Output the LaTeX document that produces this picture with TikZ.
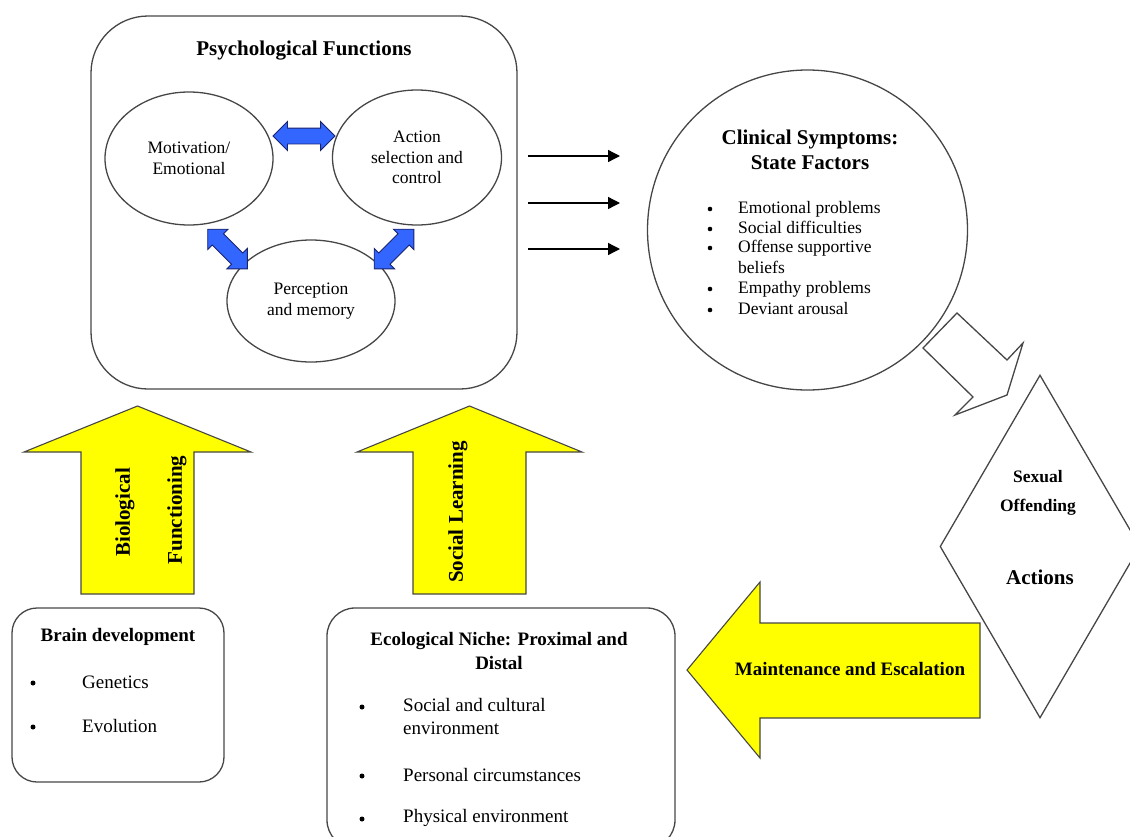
\documentclass[tikz,border=0pt]{standalone}
\usepackage{fontspec}
\setmainfont{Liberation Serif}
\usetikzlibrary{shapes.geometric,shapes.arrows,arrows.meta}
\definecolor{lc}{RGB}{70,70,70}
\definecolor{arrowblue}{RGB}{51,102,255}
\definecolor{bluedark}{RGB}{25,35,110}
\definecolor{yel}{RGB}{255,255,0}
\tikzset{
  lw/.style={draw=lc, line width=1.3pt},
  pbox/.style={lw, rectangle, inner sep=0pt},
  ell/.style={lw, ellipse, inner sep=0pt, align=center, font=\fontsize{17.5}{20.5}\selectfont},
  bluedbl/.style={double arrow, fill=arrowblue, draw=bluedark, line width=0.9pt, minimum width=28pt, minimum height=#1, double arrow head extend=6.5pt, double arrow head indent=0pt, inner xsep=0pt, inner ysep=7.5pt},
  blockarrow/.style={fill=yel, draw=lc, line width=1.1pt, line join=miter},
  hollow/.style={fill=white, draw=lc, line width=1.3pt, line join=miter},
  thinarrow/.style={line width=1.3pt, -{Triangle[length=12pt,width=12pt]}},
  ttlXL/.style={inner sep=0pt, font=\bfseries\fontsize{21}{25}\selectfont, align=center},
  ttlL/.style={inner sep=0pt, font=\bfseries\fontsize{19}{24}\selectfont, align=center},
  ttlM/.style={inner sep=0pt, font=\bfseries\fontsize{17.5}{21}\selectfont, align=center},
  listS/.style={inner sep=0pt, anchor=west, align=left, font=\fontsize{17.5}{20.2}\selectfont, text height=12pt, text depth=3.5pt},
  listL/.style={inner sep=0pt, anchor=west, align=left, font=\fontsize{19}{23}\selectfont},
  bulS/.style={circle, fill=black, inner sep=0pt, minimum size=4.6pt},
  bulL/.style={circle, fill=black, inner sep=0pt, minimum size=5pt},
}
\begin{document}
\begin{tikzpicture}[x=1pt,y=-1pt]
\useasboundingbox (0,0) rectangle (1130,836);
\clip (0,0) rectangle (1130,836);

% ---------- Psychological functions ----------
\node[pbox, rounded corners=57pt, minimum width=426pt, minimum height=373pt] (psy) at (304,202.5) {};
\node[ttlXL] (psyt) at (304,51) {Psychological Functions};
\node[ell, minimum width=168pt, minimum height=133pt] (mot) at (189,158.5) {Motivation/\\Emotional};
\node[ell, minimum width=169pt, minimum height=135pt] (act) at (417,157.5) {Action\\selection and\\control};
\node[ell, minimum width=168pt, minimum height=122pt] (per) at (311,301) {Perception\\and memory};
\node[bluedbl=62pt] (ma) at (304,136) {};
\node[bluedbl=56pt, rotate=-45] (mp) at (227.5,249) {};
\node[bluedbl=56pt, rotate=45] (ap) at (394,249) {};

% ---------- three arrows ----------
\coordinate (s1) at (528,156); \coordinate (e1) at (620,156);
\coordinate (s2) at (528,203); \coordinate (e2) at (620,203);
\coordinate (s3) at (528,249); \coordinate (e3) at (620,249);
\draw[thinarrow] (s1) -- (e1);
\draw[thinarrow] (s2) -- (e2);
\draw[thinarrow] (s3) -- (e3);

% ---------- Clinical symptoms ----------
\node[lw, circle, minimum size=320pt, inner sep=0pt] (clin) at (807.5,230) {};
\node[ttlXL] (clint) at (810,149.5) {Clinical Symptoms:\\State Factors};
\node[bulS] (cb1) at (710,209) {};
\node[bulS] (cb2) at (710,229) {};
\node[bulS] (cb3) at (710,248) {};
\node[bulS] (cb4) at (710,289) {};
\node[bulS] (cb5) at (710,310) {};
\node[listS] (c1) at (738,209) {Emotional problems};
\node[listS] (c2) at (738,229) {Social difficulties};
\node[listS] (c3) at (738,248) {Offense supportive};
\node[listS] (c3b) at (738,269) {beliefs};
\node[listS] (c4) at (738,289) {Empathy problems};
\node[listS] (c5) at (738,310) {Deviant arousal};

% ---------- hollow arrow ----------
\draw[hollow] (957,313) -- (1007,360) -- (1023,343) -- (1007,395) -- (955,415) -- (973,397) -- (923,348) -- cycle;

% ---------- Diamond ----------
\node[lw, diamond, minimum width=200pt, minimum height=343pt, inner sep=0pt] (dia) at (1040,546.5) {};
\node[ttlM] (sex) at (1038,477) {Sexual};
\node[ttlM] (off) at (1038,507) {Offending};
\node[ttlXL] (actn) at (1040,577) {Actions};

% ---------- yellow up arrows ----------
\draw[blockarrow] (137.5,406) -- (251,452) -- (194,452) -- (194,594) -- (81,594) -- (81,452) -- (24,452) -- cycle;
\draw[blockarrow] (469.5,406) -- (582,452) -- (526,452) -- (526,594) -- (413,594) -- (413,452) -- (357,452) -- cycle;
\node[ttlXL, rotate=90] (bio) at (125,512.5) {Biological};
\node[ttlXL, rotate=90] (fun) at (177,510) {Functioning};
\node[ttlXL, rotate=90] (soc) at (458,512) {Social Learning};

% ---------- Brain development ----------
\node[pbox, rounded corners=25pt, minimum width=212pt, minimum height=174pt] (brain) at (118,695) {};
\node[ttlL] (braint) at (118,637) {Brain development};
\node[bulL] (bb1) at (33,683) {};
\node[bulL] (bb2) at (33,727) {};
\node[listL] (gen) at (82,682) {Genetics};
\node[listL] (evo) at (82,726) {Evolution};

% ---------- Ecological niche ----------
\node[pbox, rounded corners=28pt, minimum width=348pt, minimum height=240pt] (eco) at (501,728) {};
\node[ttlL] (ecot) at (499,651) {Ecological Niche: Proximal and\\Distal};
\node[bulL] (eb1) at (362,707) {};
\node[bulL] (eb2) at (362,776) {};
\node[bulL] (eb3) at (362,819) {};
\node[listL] (e1t) at (403,716.5) {Social and cultural\\environment};
\node[listL] (e2t) at (403,775) {Personal circumstances};
\node[listL] (e3t) at (403,818) {Physical environment};

% ---------- Maintenance arrow ----------
\draw[blockarrow] (687,670) -- (760,582) -- (760,623) -- (980,623) -- (980,718) -- (760,718) -- (760,758) -- cycle;
\node[ttlL] (mnt) at (850,669) {Maintenance and Escalation};
\end{tikzpicture}
\end{document}
